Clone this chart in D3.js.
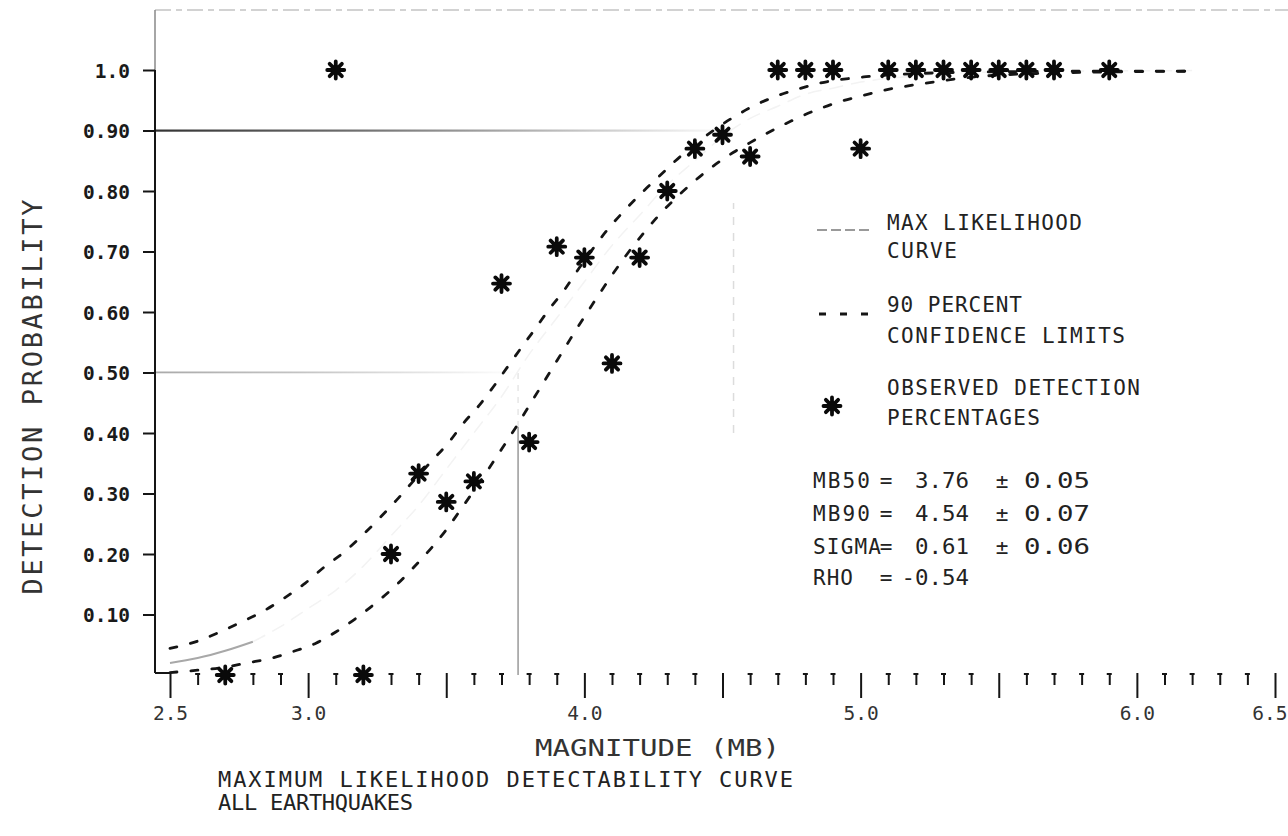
<!DOCTYPE html>
<html><head><meta charset="utf-8">
<script src="https://cdn.jsdelivr.net/npm/d3@7"></script>
<style>body{margin:0;background:#fff}svg{display:block}</style>
</head><body>
<svg id="c" width="1288" height="836"></svg>
<script>
// ---------- data ----------
const obsMag  = [2.7, 3.1, 3.2, 3.3, 3.4, 3.5, 3.6, 3.7, 3.8, 3.9, 4.0, 4.1, 4.2, 4.3, 4.4, 4.5, 4.6, 4.7, 4.8, 4.9, 5.0, 5.1, 5.2, 5.3, 5.4, 5.5, 5.6, 5.7, 5.9];
const obsProb = [0.0, 1.0, 0.0, 0.20, 0.333, 0.286, 0.32, 0.647, 0.385, 0.708, 0.69, 0.515, 0.69, 0.80, 0.87, 0.893, 0.857, 1.0, 1.0, 1.0, 0.87, 1.0, 1.0, 1.0, 1.0, 1.0, 1.0, 1.0, 1.0];

const upperMag  = [2.5, 2.6, 2.68, 2.76, 2.84, 2.91, 2.99, 3.06, 3.13, 3.19, 3.26, 3.32, 3.38, 3.45, 3.51, 3.56, 3.62, 3.67, 3.72, 3.77, 3.82, 3.87, 3.93, 3.98, 4.03, 4.08, 4.15, 4.21, 4.27, 4.33, 4.40, 4.47, 4.54, 4.61, 4.69, 4.77, 4.85, 5.02, 5.2, 5.5, 5.8, 6.2];
const upperProb = [0.044, 0.056, 0.071, 0.088, 0.106, 0.126, 0.152, 0.179, 0.203, 0.228, 0.26, 0.289, 0.32, 0.355, 0.385, 0.415, 0.446, 0.476, 0.508, 0.54, 0.571, 0.603, 0.638, 0.672, 0.704, 0.734, 0.77, 0.798, 0.824, 0.85, 0.877, 0.901, 0.922, 0.94, 0.956, 0.968, 0.978, 0.989, 0.994, 0.997, 0.998, 0.998];

const lowerMag  = [2.5, 2.6, 2.7, 2.78, 2.87, 2.94, 3.03, 3.10, 3.18, 3.25, 3.32, 3.38, 3.45, 3.50, 3.55, 3.62, 3.69, 3.75, 3.80, 3.85, 3.90, 3.95, 4.00, 4.05, 4.10, 4.15, 4.21, 4.27, 4.33, 4.39, 4.46, 4.54, 4.60, 4.68, 4.75, 4.84, 4.92, 5.01, 5.10, 5.19, 5.4, 5.7, 6.2];
const lowerProb = [0.004, 0.008, 0.013, 0.020, 0.028, 0.038, 0.053, 0.071, 0.096, 0.121, 0.149, 0.177, 0.212, 0.240, 0.272, 0.318, 0.366, 0.408, 0.445, 0.482, 0.519, 0.556, 0.592, 0.627, 0.661, 0.693, 0.728, 0.76, 0.788, 0.813, 0.839, 0.864, 0.88, 0.9, 0.916, 0.934, 0.947, 0.958, 0.968, 0.975, 0.988, 0.995, 0.998];

const mlMag  = [2.5, 2.6, 2.7, 2.8, 2.9, 3.0, 3.1, 3.2, 3.3, 3.4, 3.5, 3.6, 3.7, 3.8, 3.9, 4.0, 4.1, 4.2, 4.3, 4.4, 4.5, 4.6, 4.7, 4.8, 4.9, 5.0, 5.2, 5.5, 6.2];
const mlProb = [0.02, 0.028, 0.04, 0.055, 0.08, 0.11, 0.14, 0.18, 0.23, 0.28, 0.34, 0.40, 0.46, 0.53, 0.59, 0.65, 0.71, 0.76, 0.81, 0.85, 0.89, 0.92, 0.94, 0.96, 0.97, 0.98, 0.99, 0.997, 0.999];

const yTickValues = [0.1, 0.2, 0.3, 0.4, 0.5, 0.6, 0.7, 0.8, 0.9, 1.0];
const yTickLabels = ["0.10", "0.20", "0.30", "0.40", "0.50", "0.60", "0.70", "0.80", "0.90", "1.0"];
const xMajorTicks = [2.5, 3.0, 3.5, 4.0, 4.5, 5.0, 5.5, 6.0, 6.5];
const xMajorLabels = ["2.5", "3.0", "", "4.0", "", "5.0", "", "6.0", "6.5"];

const statNames  = ["MB50", "MB90", "SIGMA", "RHO"];
const statValues = ["3.76", "4.54", "0.61", "-0.54"];
const statErrors = ["0.05", "0.07", "0.06", ""];
const mb50 = 3.76, mb90 = 4.54;

const legendLabels = [["MAX LIKELIHOOD", "CURVE"], ["90 PERCENT", "CONFIDENCE LIMITS"], ["OBSERVED DETECTION", "PERCENTAGES"]];
const xTitle = "MAGNITUDE (MB)";
const yTitle = "DETECTION PROBABILITY";
const captionLines = ["MAXIMUM LIKELIHOOD DETECTABILITY CURVE", "ALL EARTHQUAKES"];

// ---------- drawing ----------
const svg = d3.select("#c");
const FONT = "'DejaVu Sans Mono', 'Liberation Mono', monospace";
const INK = "#151515";
const x = d3.scaleLinear().domain([2.5, 6.5]).range([170, 1275]);
const y = d3.scaleLinear().domain([0, 1]).range([675, 70]);
const axisX = 155, topY = 10;

function txt(g, px, py, s, len, anchor, size, fill, adj) {
  const t = g.append("text").attr("x", px).attr("y", py).text(s)
    .attr("font-family", FONT).attr("font-size", size || 21)
    .attr("fill", fill || INK).attr("text-anchor", anchor || "start");
  if (len) t.attr("textLength", len).attr("lengthAdjust", adj || "spacing");
  return t;
}

const defs = svg.append("defs");
function fadeGrad(id, c, mid) {
  const g = defs.append("linearGradient").attr("id", id).attr("x1", "0").attr("x2", "1").attr("y1", "0").attr("y2", "0");
  g.append("stop").attr("offset", "0").attr("stop-color", c);
  g.append("stop").attr("offset", mid).attr("stop-color", c).attr("stop-opacity", 0.7);
  g.append("stop").attr("offset", "1").attr("stop-color", c).attr("stop-opacity", 0);
}
fadeGrad("fade90", "#333", "0.35");
fadeGrad("fade50", "#aaa", "0.4");

// frame top (faint dashed)
svg.append("line").attr("x1", axisX).attr("x2", 1288).attr("y1", topY).attr("y2", topY)
  .attr("stroke", "#c4c4c4").attr("stroke-width", 1.5).attr("stroke-dasharray", "16,5,6,5");

// reference lines at 0.9 and 0.5
svg.append("rect").attr("x", axisX).attr("y", y(0.9) - 1).attr("width", x(mb90) - axisX).attr("height", 2.2).attr("fill", "url(#fade90)");
svg.append("rect").attr("x", axisX).attr("y", y(0.5) - 1).attr("width", x(mb50) - axisX).attr("height", 1.8).attr("fill", "url(#fade50)");
svg.append("line").attr("x1", x(mb50)).attr("x2", x(mb50)).attr("y1", y(0)).attr("y2", y(0.41))
  .attr("stroke", "#999").attr("stroke-width", 1.5);
svg.append("line").attr("x1", x(mb50)).attr("x2", x(mb50)).attr("y1", y(0.41)).attr("y2", y(0.5))
  .attr("stroke", "#e6e6e6").attr("stroke-width", 1.5).attr("stroke-dasharray", "6,6");
svg.append("line").attr("x1", x(mb90)).attr("x2", x(mb90)).attr("y1", y(0.4)).attr("y2", y(0.78))
  .attr("stroke", "#dcdcdc").attr("stroke-width", 1.5).attr("stroke-dasharray", "8,8");

// y axis
svg.append("line").attr("x1", axisX).attr("x2", axisX).attr("y1", topY).attr("y2", y(1.0))
  .attr("stroke", "#888").attr("stroke-width", 1.5);
svg.append("line").attr("x1", axisX).attr("x2", axisX).attr("y1", y(1.0)).attr("y2", y(0) - 2)
  .attr("stroke", INK).attr("stroke-width", 2);
svg.append("line").attr("x1", axisX).attr("x2", x(2.5)).attr("y1", y(0) - 2).attr("y2", y(0) - 2)
  .attr("stroke", INK).attr("stroke-width", 2);

const yAxis = d3.axisLeft(y).tickValues(yTickValues).tickSize(12).tickPadding(13)
  .tickFormat((d, i) => yTickLabels[i]);
const yg = svg.append("g").attr("transform", `translate(${axisX},0)`).call(yAxis);
yg.select(".domain").remove();
yg.selectAll(".tick line").attr("stroke", INK).attr("stroke-width", 2);
yg.selectAll(".tick text").attr("font-family", FONT).attr("font-size", 19.5).attr("font-weight", "bold")
  .attr("fill", "#1a1a1a").attr("dy", "0.36em");

// x axis: minor ticks
const minorTicks = d3.range(25, 66).map(v => v / 10).filter(v => !xMajorTicks.some(m => Math.abs(m - v) < 1e-6));
const xgMinor = svg.append("g").attr("transform", `translate(0,${y(0) - 2})`)
  .call(d3.axisBottom(x).tickValues(minorTicks).tickSize(12).tickFormat(""));
xgMinor.select(".domain").remove();
xgMinor.selectAll(".tick line").attr("stroke", INK).attr("stroke-width", 2);
xgMinor.selectAll(".tick").append("line").attr("x1", -3).attr("x2", 2).attr("y1", 1).attr("y2", 1)
  .attr("stroke", INK).attr("stroke-width", 2);

const xgMajor = svg.append("g").attr("transform", `translate(0,${y(0) - 2})`)
  .call(d3.axisBottom(x).tickValues(xMajorTicks).tickSize(25).tickPadding(8).tickFormat((d, i) => xMajorLabels[i]));
xgMajor.select(".domain").remove();
xgMajor.selectAll(".tick line").attr("stroke", INK).attr("stroke-width", 2);
xgMajor.selectAll(".tick text").attr("font-family", FONT).attr("font-size", 19.5).attr("fill", "#333");
xgMajor.selectAll(".tick text").filter((d, i) => i === xMajorTicks.length - 1)
  .attr("text-anchor", "end").attr("dx", 1287 - x(6.5));

// curves
const line = d3.line().x(d => x(d[0])).y(d => y(d[1])).curve(d3.curveMonotoneX);
const mlPts = mlMag.map((m, i) => [m, mlProb[i]]);
svg.append("path").attr("d", line(mlPts.filter(p => p[0] >= 2.75))).attr("fill", "none")
  .attr("stroke", "#f3f3f3").attr("stroke-width", 1.5).attr("stroke-dasharray", "14,8");
svg.append("path").attr("d", line(mlPts.filter(p => p[0] <= 2.8))).attr("fill", "none")
  .attr("stroke", "#a8a8a8").attr("stroke-width", 2);

const upPts = upperMag.map((m, i) => [m, upperProb[i]]);
const loPts = lowerMag.map((m, i) => [m, lowerProb[i]]);
[upPts, loPts].forEach(pts => {
  svg.append("path").attr("d", line(pts)).attr("fill", "none")
    .attr("stroke", INK).attr("stroke-width", 2.8).attr("stroke-dasharray", "7,14").attr("stroke-linecap", "round");
});

// asterisk markers
function star(g, cx, cy) {
  const r = 8.5, d = r * 0.72;
  g.append("path").attr("transform", `translate(${cx},${cy})`)
    .attr("d", `M0,${-r}L0,${r}M${-r},0L${r},0M${-d},${-d}L${d},${d}M${-d},${d}L${d},${-d}`)
    .attr("stroke", "#0a0a0a").attr("stroke-width", 3.8).attr("stroke-linecap", "round");
  g.append("circle").attr("cx", cx).attr("cy", cy).attr("r", 4.5).attr("fill", "#0a0a0a");
}
const sg = svg.append("g");
obsMag.forEach((m, i) => star(sg, x(m), y(obsProb[i])));

// legend
const lg = svg.append("g");
lg.append("line").attr("x1", 817).attr("x2", 873).attr("y1", 230).attr("y2", 230)
  .attr("stroke", "#9a9a9a").attr("stroke-width", 2).attr("stroke-dasharray", "10,4");
lg.append("line").attr("x1", 817).attr("x2", 875).attr("y1", 314).attr("y2", 314)
  .attr("stroke", INK).attr("stroke-width", 2.8).attr("stroke-dasharray", "7,14").attr("stroke-dashoffset", -2);
star(lg, 832, 406);
const legY = [[230, 258], [312, 343], [395, 425]];
const legLen = [[195, 70], [135, 238], [253, 153]];
legendLabels.forEach((pair, i) => pair.forEach((s, j) => txt(lg, 887, legY[i][j], s, legLen[i][j], "start", 21, "#222")));

// statistics
const stY = [488, 521, 554, 585];
const nameLen = [57, 57, 68, 40];
statNames.forEach((s, i) => {
  txt(lg, 813, stY[i], s, nameLen[i], "start", 21, "#222");
  txt(lg, 886, stY[i], "=", null, "middle", 21, "#222");
  txt(lg, 969, stY[i], statValues[i], statValues[i].length * 13.5, "end", 21, "#222", "spacingAndGlyphs");
  if (statErrors[i]) {
    txt(lg, 1002, stY[i], "±", null, "middle", 21, "#222");
    txt(lg, 1024, stY[i], statErrors[i], 66, "start", 21, "#222", "spacingAndGlyphs");
  }
});

// titles
txt(svg, 535, 756, xTitle, 245, "start", 23, "#333", "spacingAndGlyphs");
txt(svg, 218, 787, captionLines[0], 575, "start", 22, "#222");
txt(svg, 218, 810, captionLines[1], 195, "start", 22, "#222");
svg.append("text").attr("transform", "translate(42,397) rotate(-90)").text(yTitle)
  .attr("font-family", FONT).attr("font-size", 27).attr("fill", "#333").attr("text-anchor", "middle")
  .attr("textLength", 395).attr("lengthAdjust", "spacing");
</script>
</body></html>
